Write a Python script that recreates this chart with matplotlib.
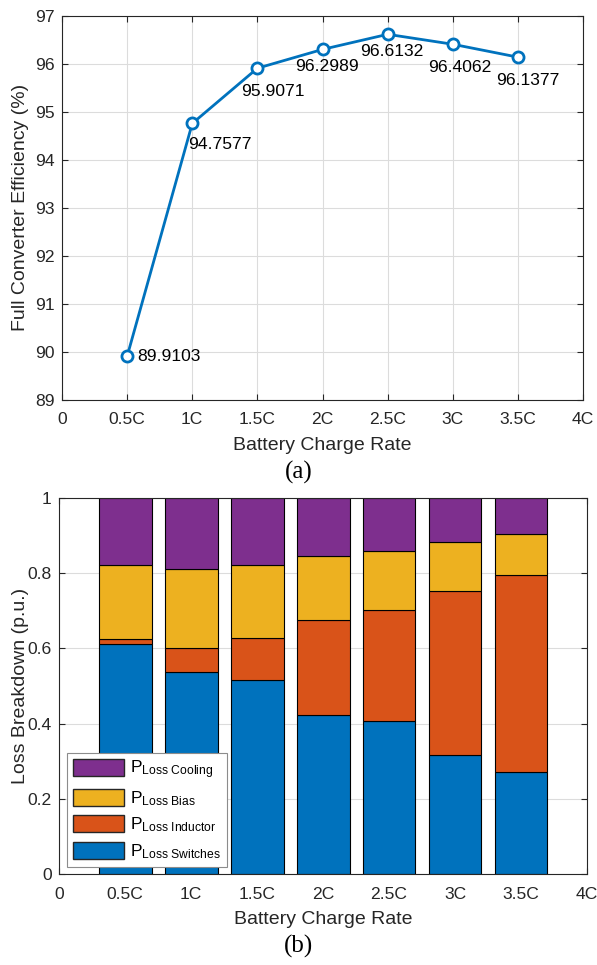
import matplotlib
matplotlib.use("Agg")
import matplotlib.pyplot as plt
from matplotlib.patches import Patch
import numpy as np

plt.rcParams['font.family'] = ['Liberation Sans', 'DejaVu Sans']
plt.rcParams['mathtext.fontset'] = 'custom'
plt.rcParams['mathtext.rm'] = 'Liberation Sans'
plt.rcParams['mathtext.it'] = 'Liberation Sans'

# ---- data ----
rates = ['0.5C', '1C', '1.5C', '2C', '2.5C', '3C', '3.5C']
tick_labels = ['0', '0.5C', '1C', '1.5C', '2C', '2.5C', '3C', '3.5C', '4C']
efficiency = [89.9103, 94.7577, 95.9071, 96.2989, 96.6132, 96.4062, 96.1377]

# loss breakdown shares (p.u.), bottom to top
p_switches = [0.611, 0.538, 0.515, 0.424, 0.407, 0.317, 0.270]
p_inductor = [0.013, 0.064, 0.113, 0.251, 0.294, 0.436, 0.525]
p_bias = [0.198, 0.209, 0.195, 0.171, 0.157, 0.129, 0.109]
p_cooling = [1 - a - b - c for a, b, c in zip(p_switches, p_inductor, p_bias)]

# label offsets for the efficiency values (points)
label_offsets = [(7, 0), (-3, -15), (-12, -16.5), (-20, -12.5), (-19.5, -12.5), (-18, -16.5), (-16, -16.5)]

BLUE = '#0072BD'
ORANGE = '#D95319'
YELLOW = '#EDB120'
PURPLE = '#7E2F8E'
AX_COLOR = '#262626'
FS = 12.6
LFS = 14

x = np.arange(1, len(rates) + 1)

fig = plt.figure(figsize=(5.97, 9.65), dpi=100)


def style_axes(ax):
    for s in ax.spines.values():
        s.set_color(AX_COLOR)
        s.set_linewidth(0.8)
    ax.tick_params(direction='in', top=True, right=True, colors=AX_COLOR,
                   labelsize=FS, length=4, width=0.8, labelcolor=AX_COLOR)
    ax.tick_params(axis='x', pad=9)
    ax.tick_params(axis='y', pad=5.5)
    ax.grid(True, color='#dcdcdc', linewidth=0.8)
    ax.set_axisbelow(True)
    ax.set_xlim(0, 8)
    ax.set_xticks(range(9))
    ax.set_xticklabels(tick_labels)
    ax.set_xlabel('Battery Charge Rate', fontsize=LFS, color=AX_COLOR, labelpad=7)


# ---- (a) efficiency ----
ax1 = fig.add_axes([0.1039, 0.5855, 0.8727, 0.3982])
style_axes(ax1)
ax1.plot(x, efficiency, color=BLUE, linewidth=2.0, marker='o', markersize=8,
         markerfacecolor='white', markeredgecolor=BLUE, markeredgewidth=2.0, zorder=3)
for xi, yi, off in zip(x, efficiency, label_offsets):
    ax1.annotate(f'{yi:.4f}', (xi, yi), xytext=off, textcoords='offset points',
                 ha='left', va='center', fontsize=FS, color='black')
ax1.set_ylim(89, 97)
ax1.set_yticks(range(89, 98))
ax1.set_ylabel('Full Converter Efficiency (%)', fontsize=LFS, color=AX_COLOR)
ax1.yaxis.set_label_coords(-0.064, 0.5)
fig.text(0.5, 1 - 472 / 965, '(a)', ha='center', va='center', fontsize=18,
         family='Liberation Serif')

# ---- (b) loss breakdown ----
ax2 = fig.add_axes([0.0993, 0.0943, 0.8839, 0.3896])
style_axes(ax2)
w = 0.8
bottom = np.zeros(len(x))
series = [(p_switches, BLUE), (p_inductor, ORANGE), (p_bias, YELLOW), (p_cooling, PURPLE)]
for vals, col in series:
    ax2.bar(x, vals, width=w, bottom=bottom, color=col, edgecolor='black', linewidth=0.8, zorder=2)
    bottom += np.array(vals)
ax2.set_ylim(0, 1)
ax2.set_yticks([0, 0.2, 0.4, 0.6, 0.8, 1])
ax2.set_yticklabels(['0', '0.2', '0.4', '0.6', '0.8', '1'])
ax2.set_ylabel('Loss Breakdown (p.u.)', fontsize=LFS, color=AX_COLOR)
ax2.yaxis.set_label_coords(-0.058, 0.5)

handles = [Patch(facecolor=PURPLE, edgecolor=AX_COLOR),
           Patch(facecolor=YELLOW, edgecolor=AX_COLOR),
           Patch(facecolor=ORANGE, edgecolor=AX_COLOR),
           Patch(facecolor=BLUE, edgecolor=AX_COLOR)]
labels = [r'P$_{\mathrm{Loss\ Cooling}}$', r'P$_{\mathrm{Loss\ Bias}}$',
          r'P$_{\mathrm{Loss\ Inductor}}$', r'P$_{\mathrm{Loss\ Switches}}$']
leg = ax2.legend(handles, labels, loc='lower left', bbox_to_anchor=(0.015, 0.019),
                 borderaxespad=0, fontsize=12.5, handlelength=2.95, handleheight=1.15,
                 handletextpad=0.3, labelspacing=0.42, borderpad=0.35,
                 fancybox=False, framealpha=1, edgecolor='#8c8c8c')
leg.get_frame().set_linewidth(0.8)
fig.text(0.5, 1 - 946 / 965, '(b)', ha='center', va='center', fontsize=18,
         family='Liberation Serif')

fig.savefig('out.png', dpi=100)
